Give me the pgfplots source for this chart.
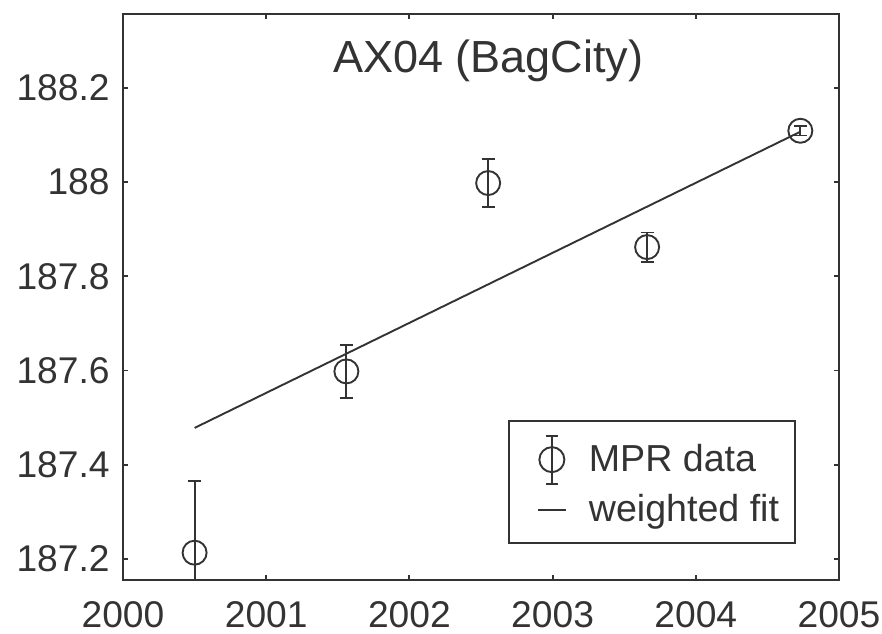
\documentclass[border=0pt]{standalone}
\usepackage{pgfplots}
\pgfplotsset{compat=1.18}
\usepackage{fontspec}
\setmainfont{Liberation Sans}
\usetikzlibrary{calc}
\definecolor{ink}{gray}{0.2}
\pgfplotsset{
  errlegend/.style={legend image code/.code={
    \path[draw=none, fill=none] (0pt,0pt) -- (32pt,0pt);
    \draw[ink, line width=0.95pt] (15.5pt,0pt) circle[radius=6.25pt];
    \draw[ink, line width=0.95pt] (15.5pt,-12pt) -- (15.5pt,12pt);
    \draw[ink, line width=0.95pt] (12.5pt,-12pt) -- (18.5pt,-12pt);
    \draw[ink, line width=0.95pt] (12.5pt,12pt) -- (18.5pt,12pt);
  }},
  linelegend/.style={legend image code/.code={
    \path[draw=none, fill=none] (0pt,0pt) -- (32pt,0pt);
    \draw[ink, line width=0.95pt] (8.5pt,0pt) -- (22.5pt,0pt);
  }},
}
\begin{document}
\begin{tikzpicture}
\begin{axis}[
  name=ax,
  scale only axis,
  width=358pt, height=283pt,
  xmin=2000, xmax=2005,
  ymin=187.155, ymax=188.357,
  xtick={2000,2001,2002,2003,2004,2005},
  ytick={187.2,187.4,187.6,187.8,188,188.2},
  /pgf/number format/1000 sep={},
  /pgf/number format/assume math mode=true,
  tick align=inside,
  major tick length=2.5pt,
  axis line style={ink, line width=0.95pt},
  tick style={ink, line width=0.95pt},
  ticklabel style={font=\fontsize{18.6}{22}\selectfont, text=ink, inner sep=0pt},
  yticklabel style={xshift=-6.5pt},
  xticklabel style={yshift=-10.5pt},
  legend style={at={(axis description cs:0.94,0.064)}, anchor=south east,
    draw=ink, line width=0.95pt, font=\fontsize{18.8}{22}\selectfont, text=ink,
    inner xsep=6pt, inner ysep=7pt, row sep=3pt,
    cells={anchor=west}},
  legend cell align=left,
]
\addplot[ink, line width=0.95pt, only marks, mark=o, mark size=6pt, errlegend,
  error bars/.cd, y dir=both, y explicit,
  error bar style={ink, line width=0.95pt},
  error mark options={rotate=90, mark size=3.25pt, ink, line width=0.95pt}]
  coordinates {
  (2000.5, 187.213) +- (0, 0.152)
  (2001.56, 187.598) +- (0, 0.057)
  (2002.55, 187.998) +- (0, 0.051)
  (2003.66, 187.862) +- (0, 0.031)
  (2004.73, 188.109) +- (0, 0.010)
  };
\addlegendentry{MPR data}
\addplot[ink, line width=0.95pt, linelegend] coordinates {(2000.5,187.478) (2004.73,188.107)};
\addlegendentry{weighted fit}
\node[anchor=base, text=ink, font=\fontsize{22.5}{26}\selectfont] at (axis description cs:0.51,0.896) {AX04 (BagCity)};
\end{axis}
\pgfresetboundingbox
\path ($(ax.south west)+(-61.5pt,-26.5pt)$) rectangle ($(ax.north east)+(21.5pt,7pt)$);
\end{tikzpicture}
\end{document}
